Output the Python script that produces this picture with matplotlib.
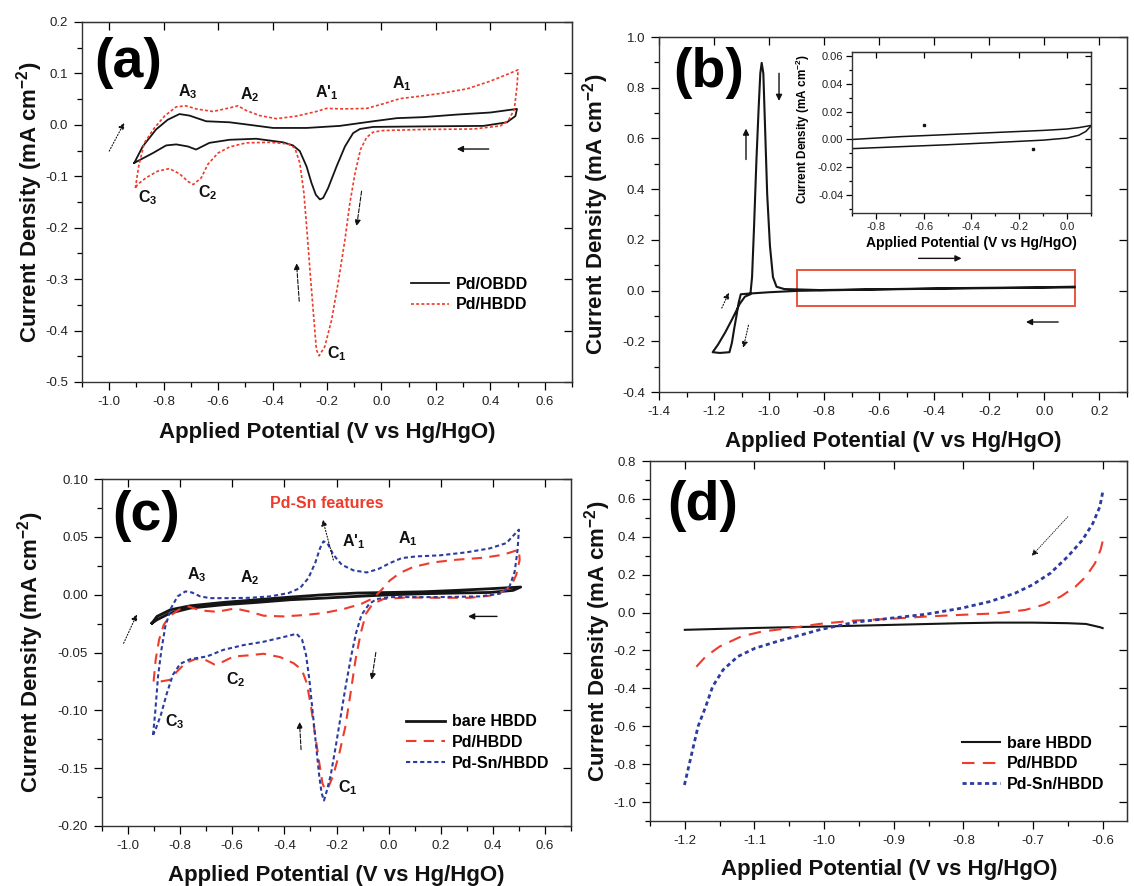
"""
Pd / Pd-Sn on BDD: CV panels (a)-(d)
"""
import matplotlib
matplotlib.use('Agg')
import matplotlib.pyplot as plt
from matplotlib.ticker import MultipleLocator, FormatStrFormatter, NullFormatter
from matplotlib.patches import Rectangle

plt.rcParams['font.family'] = ['Liberation Sans', 'DejaVu Sans']
plt.rcParams['mathtext.default'] = 'regular'
plt.rcParams['axes.unicode_minus'] = False

# ---- (a) Pd/OBDD vs Pd/HBDD (loop: left vertex -> right vertex -> back)
a_obdd_v = [-0.908, -0.877, -0.828, -0.785, -0.742, -0.705, -0.644, -0.558, -0.484, -0.398, -0.275, -0.153,
            -0.030, 0.056, 0.154, 0.277, 0.400, 0.498,
            0.492, 0.461, 0.375, 0.154, -0.030, -0.079, -0.104, -0.134, -0.165, -0.196, -0.214, -0.226,
            -0.241, -0.257, -0.275, -0.300, -0.325, -0.361, -0.460, -0.558, -0.632, -0.681, -0.711, -0.754,
            -0.791, -0.840, -0.908]
a_obdd_j = [-0.074, -0.042, -0.009, 0.010, 0.021, 0.018, 0.007, 0.005, 0.000, -0.006, -0.006, -0.002,
            0.007, 0.013, 0.015, 0.020, 0.024, 0.031,
            0.017, 0.005, -0.002, -0.003, -0.004, -0.008, -0.016, -0.042, -0.081, -0.123, -0.142, -0.145,
            -0.136, -0.113, -0.081, -0.051, -0.040, -0.034, -0.027, -0.029, -0.035, -0.048, -0.042, -0.038,
            -0.040, -0.055, -0.074]

a_hbdd_v = [-0.904, -0.892, -0.871, -0.834, -0.797, -0.754, -0.718, -0.681, -0.619, -0.558, -0.527, -0.497,
            -0.447, -0.386, -0.312, -0.239, -0.202, -0.140, -0.054, 0.007, 0.068, 0.130, 0.216, 0.314,
            0.400, 0.461, 0.502,
            0.498, 0.488, 0.467, 0.437, 0.339, 0.154, 0.007, -0.030, -0.054, -0.077, -0.097, -0.116,
            -0.134, -0.159, -0.183, -0.208, -0.229, -0.239, -0.248, -0.261, -0.273, -0.285, -0.300, -0.318,
            -0.343, -0.411, -0.497, -0.558, -0.601, -0.638, -0.662, -0.691, -0.711, -0.742, -0.779, -0.822,
            -0.865, -0.896, -0.904]
a_hbdd_j = [-0.123, -0.081, -0.035, -0.006, 0.017, 0.035, 0.037, 0.031, 0.026, 0.033, 0.037, 0.028,
            0.018, 0.012, 0.017, 0.026, 0.032, 0.031, 0.032, 0.041, 0.051, 0.055, 0.061, 0.070,
            0.085, 0.098, 0.107,
            0.075, 0.030, 0.009, -0.002, -0.008, -0.009, -0.011, -0.014, -0.024, -0.048, -0.094, -0.152,
            -0.223, -0.307, -0.379, -0.431, -0.449, -0.437, -0.379, -0.294, -0.210, -0.132, -0.074, -0.045,
            -0.037, -0.034, -0.035, -0.043, -0.055, -0.077, -0.103, -0.116, -0.110, -0.095, -0.085, -0.090,
            -0.103, -0.116, -0.123]

# ---- (b) wide window CV + inset
b_v = [0.109, -0.164, -0.424, -0.685, -0.893, -0.997, -1.075, -1.103, -1.111, -1.118, -1.127, -1.135,
       -1.144, -1.179, -1.205, -1.185, -1.159, -1.133, -1.107, -1.088, -1.068, -1.062, -1.055, -1.046,
       -1.038, -1.032, -1.027, -1.021, -1.015, -1.007, -0.997, -0.986, -0.973, -0.945, -0.815, -0.554,
       -0.294, -0.034, 0.109]
b_j = [0.0126, 0.0099, 0.007, 0.003, -0.001, -0.0064, -0.012, -0.0146, -0.049, -0.096, -0.151, -0.205,
       -0.243, -0.246, -0.243, -0.212, -0.164, -0.110, -0.053, -0.024, -0.0146, 0.053, 0.244, 0.517,
       0.721, 0.857, 0.898, 0.857, 0.653, 0.380, 0.176, 0.053, 0.015, 0.006, 0.002, 0.006,
       0.010, 0.0126, 0.0153]

ins_up_v = [-0.9, -0.7, -0.5, -0.3, -0.1, 0.0, 0.05, 0.1]
ins_up_j = [0.0, 0.002, 0.0035, 0.005, 0.0065, 0.0075, 0.0085, 0.0100]
ins_lo_v = [-0.9, -0.7, -0.5, -0.3, -0.1, 0.0, 0.05, 0.08, 0.1]
ins_lo_j = [-0.0066, -0.0052, -0.0038, -0.0022, -0.0005, 0.001, 0.003, 0.0058, 0.0095]
ins_dot_v = [-0.6, -0.14]
ins_dot_j = [0.0105, -0.007]

# ---- (c) bare HBDD, Pd/HBDD, Pd-Sn/HBDD
c_bare_v = [-0.908, -0.889, -0.838, -0.761, -0.634, -0.506, -0.378, -0.250, -0.123, 0.005, 0.133, 0.260,
            0.388, 0.507,
            0.478, 0.388, 0.260, 0.133, 0.005, -0.123, -0.250, -0.378, -0.506, -0.634, -0.761, -0.838,
            -0.889, -0.908]
c_bare_j = [-0.0246, -0.0188, -0.0131, -0.0096, -0.0067, -0.0044, -0.0021, -0.0001, 0.0014, 0.0019, 0.0025,
            0.0037, 0.0051, 0.0066,
            0.0037, 0.0019, 0.0014, 0.0008, -0.0001, -0.0015, -0.0030, -0.0044, -0.0067, -0.0087, -0.0116,
            -0.0159, -0.0217, -0.0246]

c_pd_v = [-0.902, -0.894, -0.881, -0.863, -0.838, -0.806, -0.768, -0.723, -0.659, -0.589, -0.531, -0.480,
          -0.404, -0.327, -0.250, -0.174, -0.104, -0.059, -0.027, 0.005, 0.043, 0.094, 0.171, 0.260,
          0.363, 0.439, 0.500,
          0.503, 0.490, 0.471, 0.439, 0.388, 0.311, 0.197, 0.069, -0.020, -0.061, -0.087, -0.107, -0.127,
          -0.146, -0.166, -0.189, -0.212, -0.230, -0.243, -0.254, -0.266, -0.281, -0.298, -0.314, -0.333,
          -0.365, -0.416, -0.480, -0.544, -0.595, -0.634, -0.669, -0.704, -0.742, -0.780, -0.812, -0.838,
          -0.876, -0.902]
c_pd_j = [-0.0751, -0.0563, -0.0390, -0.0260, -0.0182, -0.0131, -0.0102, -0.0136, -0.0148, -0.0119, -0.0148,
          -0.0182, -0.0188, -0.0177, -0.0159, -0.0125, -0.0079, -0.0030, 0.0042, 0.0123, 0.0187, 0.0239,
          0.0279, 0.0302, 0.0319, 0.0345, 0.0389,
          0.0302, 0.0172, 0.0077, 0.0028, -0.0009, -0.0027, -0.0027, -0.0024, -0.0038, -0.0079, -0.0165,
          -0.0332, -0.0563, -0.0852, -0.1140, -0.1371, -0.1558, -0.1659, -0.1688, -0.1630, -0.1457, -0.1226,
          -0.0967, -0.0765, -0.0650, -0.0592, -0.0540, -0.0511, -0.0526, -0.0534, -0.0578, -0.0603, -0.0563,
          -0.0557, -0.0592, -0.0664, -0.0736, -0.0751, -0.0751]

c_pdsn_v = [-0.904, -0.895, -0.885, -0.872, -0.857, -0.835, -0.810, -0.780, -0.755, -0.723, -0.685, -0.608,
            -0.531, -0.455, -0.384, -0.340, -0.308, -0.282, -0.263, -0.250, -0.235, -0.212, -0.180, -0.135,
            -0.084, -0.040, 0.005, 0.050, 0.107, 0.197, 0.299, 0.388, 0.452, 0.500,
            0.495, 0.484, 0.462, 0.426, 0.350, 0.197, 0.005, -0.046, -0.074, -0.104, -0.125, -0.144, -0.165,
            -0.184, -0.203, -0.222, -0.238, -0.248, -0.257, -0.266, -0.278, -0.291, -0.304, -0.317, -0.332,
            -0.353, -0.404, -0.480, -0.557, -0.634, -0.697, -0.761, -0.800, -0.828, -0.851, -0.874, -0.895,
            -0.904]
c_pdsn_j = [-0.1212, -0.0996, -0.0707, -0.0477, -0.0275, -0.0116, -0.0015, 0.0028, 0.0019, -0.0015, -0.0030,
            -0.0030, -0.0027, -0.0015, 0.0014, 0.0057, 0.0143, 0.0273, 0.0403, 0.0461, 0.0446, 0.0345,
            0.0259, 0.0210, 0.0192, 0.0221, 0.0273, 0.0316, 0.0331, 0.0340, 0.0366, 0.0400, 0.0446, 0.0562,
            0.0389, 0.0201, 0.0057, 0.0008, -0.0015, -0.0021, -0.0021, -0.0038, -0.0079, -0.0174, -0.0332,
            -0.0534, -0.0794, -0.1053, -0.1313, -0.1558, -0.1702, -0.1780, -0.1717, -0.1573, -0.1313, -0.1025,
            -0.0736, -0.0520, -0.0390, -0.0338, -0.0367, -0.0407, -0.0436, -0.0477, -0.0534, -0.0557, -0.0598,
            -0.0693, -0.0852, -0.1039, -0.1169, -0.1212]

# ---- (d) linear sweeps
d_bare_v = [-0.600, -0.604, -0.624, -0.650, -0.701, -0.752, -0.803, -0.905, -1.007, -1.109, -1.200]
d_bare_j = [-0.082, -0.077, -0.060, -0.056, -0.053, -0.053, -0.056, -0.065, -0.074, -0.082, -0.091]
d_pd_v = [-0.600, -0.603, -0.611, -0.624, -0.639, -0.660, -0.685, -0.711, -0.752, -0.803, -0.854, -0.905,
          -0.956, -1.007, -1.033, -1.058, -1.089, -1.119, -1.150, -1.170, -1.191]
d_pd_j = [0.375, 0.331, 0.260, 0.190, 0.137, 0.085, 0.041, 0.014, -0.004, -0.012, -0.021, -0.033,
          -0.042, -0.060, -0.074, -0.086, -0.100, -0.126, -0.179, -0.232, -0.316]
d_pdsn_v = [-0.600, -0.604, -0.614, -0.629, -0.650, -0.675, -0.701, -0.726, -0.762, -0.803, -0.854, -0.905,
            -0.956, -1.007, -1.033, -1.068, -1.099, -1.124, -1.145, -1.160, -1.170, -1.181, -1.191, -1.201]
d_pdsn_j = [0.633, 0.559, 0.471, 0.383, 0.296, 0.208, 0.146, 0.102, 0.058, 0.023, -0.009, -0.030,
            -0.051, -0.091, -0.118, -0.153, -0.188, -0.232, -0.302, -0.390, -0.496, -0.601, -0.759, -0.917]

RED = '#EE3B2B'
BLUE = '#2C3C9E'
BLK = '#151515'
W, H = 1134, 886

fig = plt.figure(figsize=(W / 100, H / 100), dpi=100)


def px_axes(l, t, r, b):
    return fig.add_axes([l / W, 1 - b / H, (r - l) / W, (b - t) / H])


def setup(ax, xlim, ylim, xmaj, xmin, ymaj, ymin, xfmt, yfmt, fs=9.5, big=True):
    ax.set_xlim(xlim)
    ax.set_ylim(ylim)
    ax.xaxis.set_major_locator(MultipleLocator(xmaj))
    ax.xaxis.set_minor_locator(MultipleLocator(xmin))
    ax.yaxis.set_major_locator(MultipleLocator(ymaj))
    ax.yaxis.set_minor_locator(MultipleLocator(ymin))
    ax.xaxis.set_major_formatter(FormatStrFormatter(xfmt))
    ax.yaxis.set_major_formatter(FormatStrFormatter(yfmt))
    L = 6 if big else 4
    ax.tick_params(which='both', direction='out', labelsize=fs, labelcolor='#222222', width=0.9)
    ax.tick_params(which='major', length=L, pad=4 if big else 2.5)
    ax.tick_params(which='minor', length=L * 0.6)
    for sp in ax.spines.values():
        sp.set_linewidth(1.0)
        sp.set_color('#333333')
    # top / right: inward major ticks, no labels
    sx = ax.secondary_xaxis('top')
    sx.xaxis.set_major_locator(MultipleLocator(xmaj))
    sx.xaxis.set_major_formatter(NullFormatter())
    sx.tick_params(direction='in', length=L, width=0.9)
    sy = ax.secondary_yaxis('right')
    sy.yaxis.set_major_locator(MultipleLocator(ymaj))
    sy.yaxis.set_major_formatter(NullFormatter())
    sy.tick_params(direction='in', length=L, width=0.9)


def arrow(ax, start, end, ls='-', lw=0.9, ms=9):
    ax.annotate('', xy=end, xytext=start,
                arrowprops=dict(arrowstyle='-|>', color='#111111', lw=lw, linestyle=ls,
                                mutation_scale=ms, shrinkA=0, shrinkB=0))


def peak_label(ax, x, y, s):
    ax.text(x, y, s, fontsize=11.5, fontweight='bold', ha='center', va='center', color='#111111')


YLAB = 'Current Density (mA cm$^{-2}$)'
XLAB = 'Applied Potential (V vs Hg/HgO)'


def fig_label(x, y, s, rot=0, fs=16):
    fig.text(x / W, 1 - y / H, s, rotation=rot, ha='center', va='center',
             fontsize=fs, fontweight='bold', color='#111111')


LEG = dict(loc='upper left', frameon=False, borderaxespad=0, handlelength=2.4,
           handletextpad=0.45, labelspacing=0.35, prop={'weight': 'bold', 'size': 11.5})

# ---------------- (a)
axa = px_axes(82, 22, 572, 382)
setup(axa, (-1.1, 0.7), (-0.5, 0.2), 0.2, 0.1, 0.1, 0.05, '%.1f', '%.1f')
axa.plot(a_obdd_v, a_obdd_j, color=BLK, lw=1.3, label='Pd/OBDD')
axa.plot(a_hbdd_v, a_hbdd_j, color=RED, lw=1.2, dashes=(1.8, 1.3), label='Pd/HBDD')
axa.text(-0.93, 0.12, '(a)', fontsize=40, fontweight='bold', ha='center', va='center')
peak_label(axa, -0.711, 0.065, 'A$_3$')
peak_label(axa, -0.484, 0.059, 'A$_2$')
peak_label(axa, -0.202, 0.062, "A'$_1$")
peak_label(axa, 0.075, 0.081, 'A$_1$')
peak_label(axa, -0.859, -0.142, 'C$_3$')
peak_label(axa, -0.638, -0.132, 'C$_2$')
peak_label(axa, -0.165, -0.444, 'C$_1$')
arrow(axa, (-1.0, -0.051), (-0.945, 0.004), ls=':', lw=0.8)
arrow(axa, (0.394, -0.047), (0.277, -0.047), lw=1.0)
arrow(axa, (-0.073, -0.129), (-0.091, -0.197), ls='--', lw=0.8)
arrow(axa, (-0.302, -0.343), (-0.312, -0.269), ls='--', lw=0.8)
axa.legend(bbox_to_anchor=(0.658, 0.31), **LEG)
fig_label(327, 432, XLAB)
fig_label(30, 202, YLAB, rot=90)

# ---------------- (b)
axb = px_axes(659, 37, 1127, 392)
setup(axb, (-1.4, 0.3), (-0.4, 1.0), 0.2, 0.1, 0.2, 0.1, '%.1f', '%.1f')
axb.plot(b_v, b_j, color=BLK, lw=1.5)
axb.add_patch(Rectangle((-0.9, -0.062), 1.01, 0.145, fill=False, edgecolor='#E8553D', lw=1.4))
axb.text(-1.22, 0.857, '(b)', fontsize=40, fontweight='bold', ha='center', va='center')
arrow(axb, (-0.964, 0.857), (-0.964, 0.748), lw=1.0)
arrow(axb, (-1.084, 0.517), (-1.084, 0.639), lw=1.0)
arrow(axb, (-1.172, -0.069), (-1.146, -0.008), ls=':', lw=0.8)
arrow(axb, (-1.075, -0.137), (-1.094, -0.226), ls=':', lw=0.8)
arrow(axb, (0.050, -0.124), (-0.067, -0.124), lw=1.0)
arrow(axb, (-0.457, 0.127), (-0.301, 0.127), lw=1.0)

ins = axb.inset_axes([-0.698, 0.305, 0.866, 0.634], transform=axb.transData)
setup(ins, (-0.9, 0.1), (-0.053, 0.0625), 0.2, 0.1, 0.02, 0.01, '%.1f', '%.2f', fs=8, big=False)
ins.plot(ins_up_v, ins_up_j, color=BLK, lw=1.1)
ins.plot(ins_lo_v, ins_lo_j, color=BLK, lw=1.1)
ins.plot(ins_dot_v, ins_dot_j, 's', color=BLK, ms=1.5)
ins.set_xlabel(XLAB, fontsize=10, fontweight='bold', labelpad=3)
ins.set_ylabel(YLAB, fontsize=8.5, fontweight='bold', labelpad=2)
ins.yaxis.set_label_coords(-0.17, 0.52)
fig_label(893, 441, XLAB)
fig_label(596, 214, YLAB, rot=90)

# ---------------- (c)
axc = px_axes(102, 479, 571, 826)
setup(axc, (-1.1, 0.7), (-0.2, 0.1), 0.2, 0.1, 0.05, 0.025, '%.1f', '%.2f')
axc.plot(c_bare_v, c_bare_j, color=BLK, lw=2.0, label='bare HBDD')
axc.plot(c_pd_v, c_pd_j, color=RED, lw=1.5, dashes=(5, 3.5), label='Pd/HBDD')
axc.plot(c_pdsn_v, c_pdsn_j, color=BLUE, lw=1.5, dashes=(2, 1.4), label='Pd-Sn/HBDD')
axc.text(-0.93, 0.068, '(c)', fontsize=40, fontweight='bold', ha='center', va='center')
axc.text(-0.238, 0.079, 'Pd-Sn features', fontsize=11.5, fontweight='bold', color=RED,
         ha='center', va='center')
peak_label(axc, -0.738, 0.0172, 'A$_3$')
peak_label(axc, -0.534, 0.0143, 'A$_2$')
peak_label(axc, -0.135, 0.046, "A'$_1$")
peak_label(axc, 0.075, 0.048, 'A$_1$')
peak_label(axc, -0.819, -0.110, 'C$_3$')
peak_label(axc, -0.586, -0.0736, 'C$_2$')
peak_label(axc, -0.155, -0.167, 'C$_1$')
arrow(axc, (-1.017, -0.042), (-0.966, -0.017), ls=':', lw=0.8)
arrow(axc, (-0.212, 0.030), (-0.253, 0.065), ls=':', lw=0.8)
arrow(axc, (0.416, -0.0188), (0.305, -0.0188), lw=1.0)
arrow(axc, (-0.049, -0.050), (-0.065, -0.0736), ls='--', lw=0.8)
arrow(axc, (-0.336, -0.134), (-0.342, -0.110), ls='--', lw=0.8)
axc.legend(bbox_to_anchor=(0.635, 0.34), **LEG)
fig_label(336, 875, XLAB)
fig_label(31, 652, YLAB, rot=90)

# ---------------- (d)
axd = px_axes(650, 461, 1127, 821)
setup(axd, (-1.25, -0.565), (-1.1, 0.8), 0.1, 0.05, 0.2, 0.1, '%.1f', '%.1f')
axd.plot(d_bare_v, d_bare_j, color=BLK, lw=1.5, label='bare HBDD')
axd.plot(d_pd_v, d_pd_j, color=RED, lw=1.5, dashes=(6, 4), label='Pd/HBDD')
axd.plot(d_pdsn_v, d_pdsn_j, color=BLUE, lw=2.0, dashes=(1.5, 1.2), label='Pd-Sn/HBDD')
axd.text(-1.174, 0.564, '(d)', fontsize=40, fontweight='bold', ha='center', va='center')
arrow(axd, (-0.650, 0.506), (-0.702, 0.299), ls=':', lw=0.6)
axd.legend(bbox_to_anchor=(0.64, 0.255), **LEG)
fig_label(889, 870, XLAB)
fig_label(598, 641, YLAB, rot=90)

fig.savefig('out.png', dpi=100, facecolor='white')
